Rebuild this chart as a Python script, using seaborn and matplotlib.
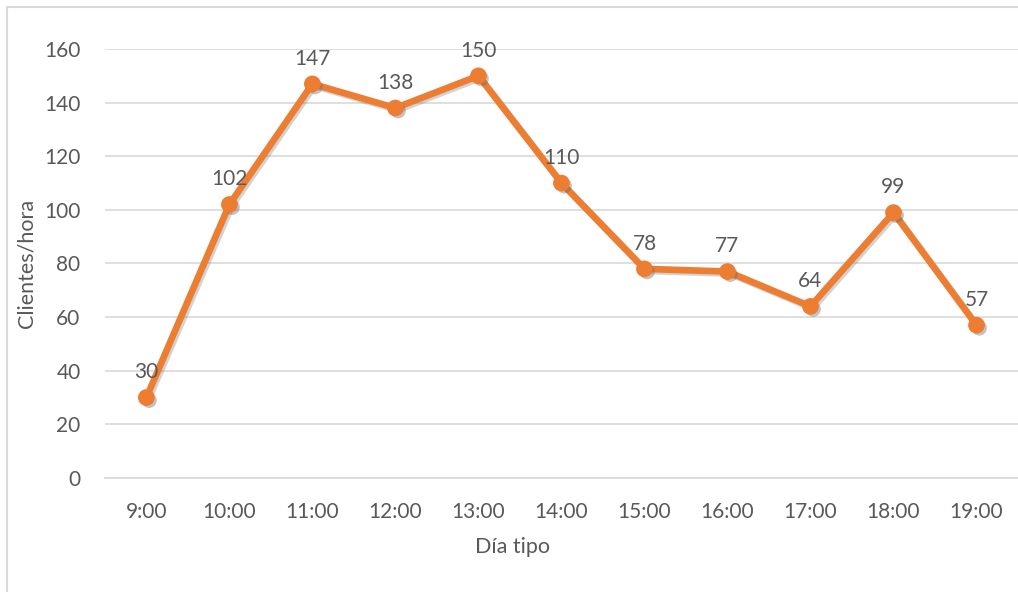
import matplotlib
matplotlib.use("Agg")
import matplotlib.pyplot as plt
import matplotlib.patheffects as pe
from matplotlib.patches import Rectangle
import seaborn as sns
import pandas as pd

# Hourly customer counts over a typical day
hours = ["9:00", "10:00", "11:00", "12:00", "13:00", "14:00",
         "15:00", "16:00", "17:00", "18:00", "19:00"]
clients = [30, 102, 147, 138, 150, 110, 78, 77, 64, 99, 57]
y_ticks = [0, 20, 40, 60, 80, 100, 120, 140, 160]

ORANGE = "#ED7D31"
TEXT = "#595959"
GRID = "#D9D9D9"

sns.set_theme(style="white")
plt.rcParams["font.family"] = ["Lato", "DejaVu Sans"]

df = pd.DataFrame({"hour": hours, "clients": clients})
df["pos"] = range(len(hours))

fig = plt.figure(figsize=(10.18, 5.92), dpi=100)
ax = fig.add_axes([0.103, 0.1926, 0.897, 0.7246])

shadow_line = [pe.SimpleLineShadow(offset=(1.5, -1.5), shadow_color="gray", alpha=0.35),
               pe.Normal()]
shadow_patch = [pe.SimplePatchShadow(offset=(2, -2), shadow_rgbFace="dimgray", alpha=0.4),
                pe.Normal()]

sns.lineplot(data=df, x="pos", y="clients", ax=ax, color=ORANGE,
             linewidth=4.8, solid_joinstyle="round", solid_capstyle="round",
             path_effects=shadow_line, zorder=3)
ax.plot(df["pos"], df["clients"], linestyle="none", marker="o",
        markersize=11, color=ORANGE, markeredgecolor=ORANGE,
        path_effects=shadow_patch, zorder=4)

for x, v in zip(df["pos"], df["clients"]):
    ax.annotate(str(v), (x, v), xytext=(0, 11), textcoords="offset points",
                ha="center", va="bottom", fontsize=15, color=TEXT)

ax.set_xlim(-0.5, len(hours) - 0.5)
ax.set_ylim(0, 160)
ax.set_xticks(df["pos"])
ax.set_xticklabels(hours)
ax.set_yticks(y_ticks)
ax.tick_params(axis="both", length=0, labelsize=15, labelcolor=TEXT)
ax.tick_params(axis="x", pad=17)
ax.tick_params(axis="y", pad=17.5)

ax.yaxis.grid(True, color=GRID, linewidth=1.2)
ax.set_axisbelow(True)
for s in ax.spines.values():
    s.set_visible(False)
ax.spines["bottom"].set_visible(True)
ax.spines["bottom"].set_color(GRID)
ax.spines["bottom"].set_linewidth(1.2)

ax.set_xlabel("Día tipo", fontsize=15.5, color=TEXT, labelpad=11)
ax.xaxis.label.set_x(0.446)
ax.set_ylabel("Clientes/hora", fontsize=15.5, color=TEXT)
ax.yaxis.set_label_coords(-0.0745, 0.5)

# chart frame
fig.patches.append(Rectangle((7 / 1018, -0.1), 1.2, (592 - 6.5) / 592 + 0.1,
                             transform=fig.transFigure, fill=False,
                             edgecolor="#D9D9D9", linewidth=1.5))

fig.savefig("out.png", dpi=100)
